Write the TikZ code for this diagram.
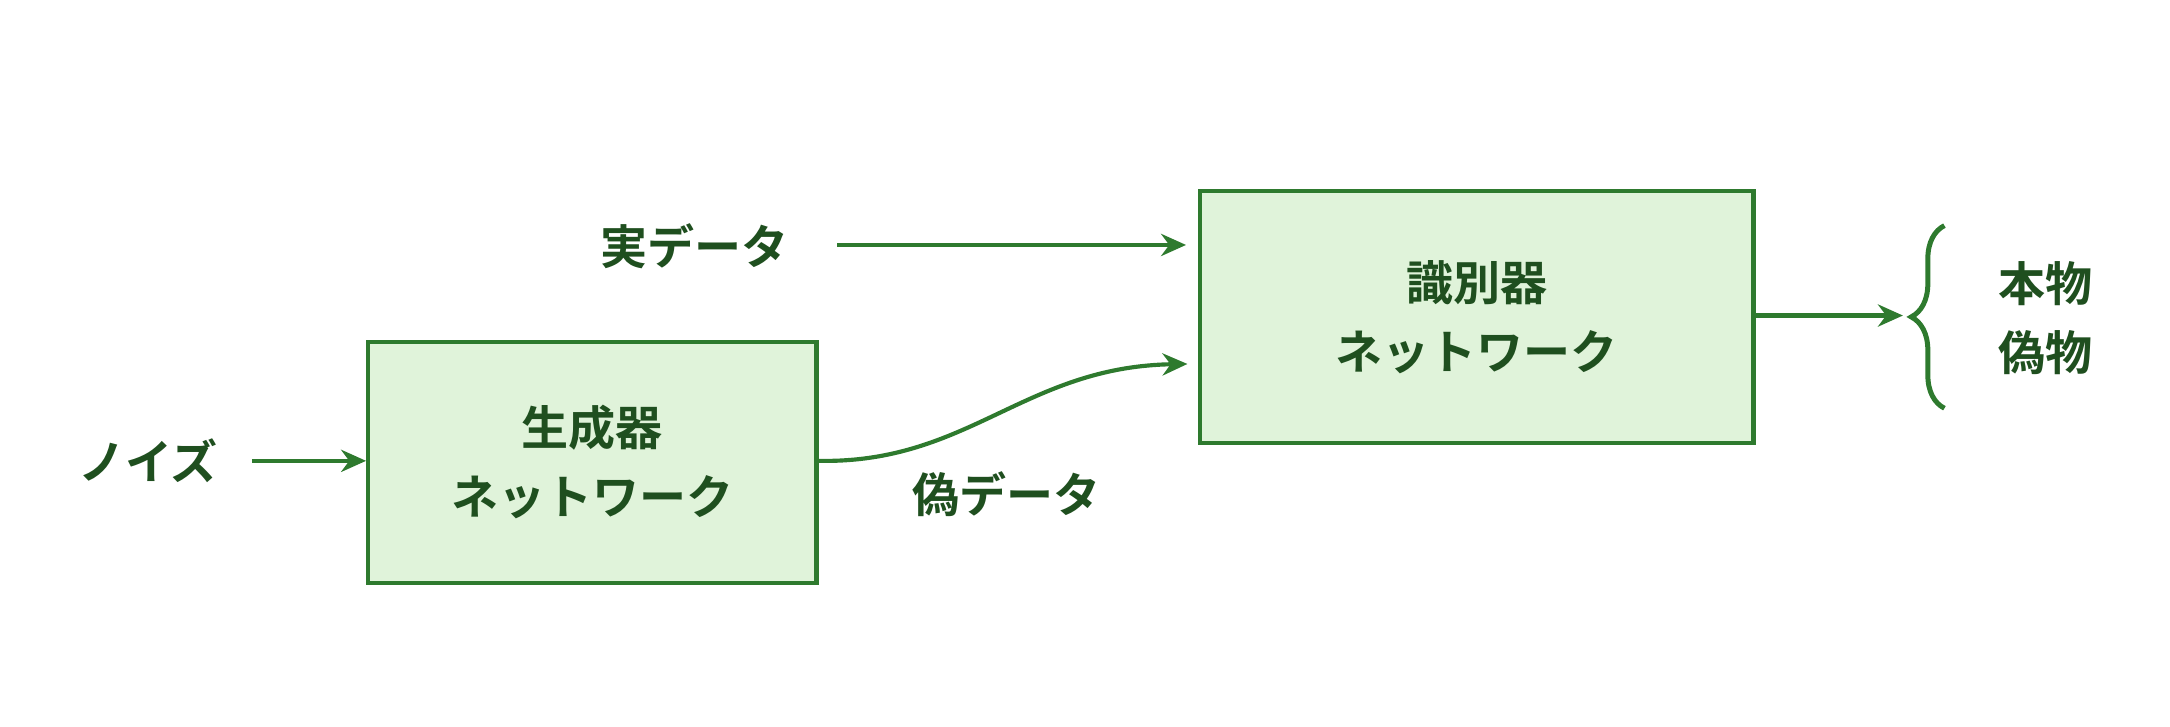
\documentclass[tikz,border=0pt]{standalone}
\usepackage{fontspec}
\newfontfamily\cjk[BoldFont={Noto Sans CJK JP Bold}]{Noto Sans CJK JP}
\usepackage{xcolor}
\definecolor{ganline}{HTML}{2E7A2E}
\definecolor{ganfill}{HTML}{E0F3DA}
\definecolor{gantext}{HTML}{1F4F1F}
\usetikzlibrary{arrows.meta,decorations.pathreplacing}
\tikzset{
  blk/.style={draw=ganline,fill=ganfill,line width=1.5pt,minimum width=162pt,minimum height=87pt,align=center,font=\cjk\bfseries\fontsize{17}{25}\selectfont,text=gantext},
  lbl/.style={inner sep=1pt,font=\cjk\bfseries\fontsize{17}{20}\selectfont,text=gantext},
  arr/.style={draw=ganline,line width=1.5pt,-{Stealth[length=9pt,width=8pt]}}
}
\begin{document}
\begin{tikzpicture}[x=0.5pt,y=0.5pt,yscale=-1,xscale=1]
		\useasboundingbox (0,0) rectangle (1568,525);
		\node [blk] (gen) at (428,334) {生成器\\ネットワーク};
		\node [blk,minimum width=200pt,minimum height=91pt] (disc) at (1067,229) {識別器\\ネットワーク};
		\node [lbl] (noise) at (107,333) {ノイズ};
		\node [lbl] (real) at (502,178) {実データ};
		\node [lbl] (fake) at (727,357) {偽データ};
		\node [lbl,align=left,font=\cjk\bfseries\fontsize{17}{25}\selectfont] (out) at (1478,230) {本物\\偽物};
		\coordinate (noiseA) at (182,333);
		\coordinate (realA) at (605,177);
		\coordinate (realB) at (857,177);
		\coordinate (fakeB) at (858,263);
		\coordinate (outB) at (1375,228);
		\coordinate (braceT) at (1405,163);
		\coordinate (braceB) at (1405,295);
		\draw [arr] (noiseA) -- (gen.west |- noiseA);
		\draw [arr] (realA) -- (realB);
		\draw [arr] (gen.east |- 0,333) .. controls (700,335) and (740,265) .. (fakeB);
		\draw [arr] (disc.east |- outB) -- (outB);
		\draw [draw=ganline,line width=1.8pt,decoration={brace,amplitude=12pt}] [decorate] (braceB) -- (braceT);
\end{tikzpicture}
\end{document}
